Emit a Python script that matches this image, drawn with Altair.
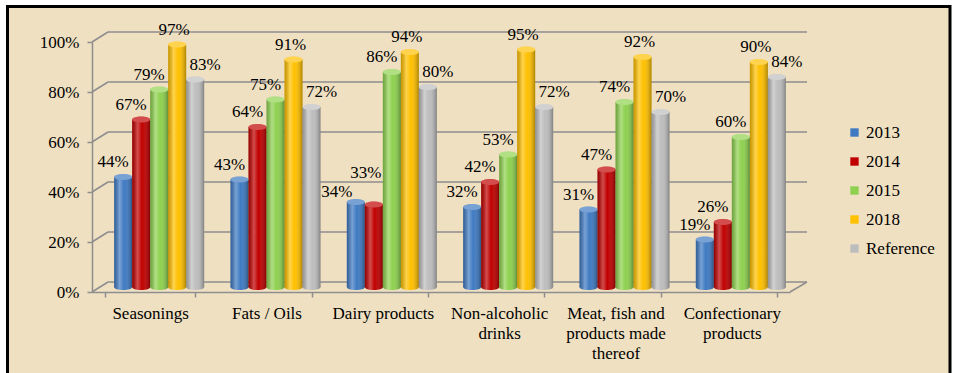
import altair as alt
import pandas as pd

# Product groups ("|" marks a line break in the axis label)
categories = [
    "Seasonings",
    "Fats / Oils",
    "Dairy products",
    "Non-alcoholic|drinks",
    "Meat, fish and|products made|thereof",
    "Confectionary|products",
]
series_names = ["2013", "2014", "2015", "2018", "Reference"]
series_colors = ["#3F7AC2", "#C00000", "#8ED14F", "#FFC000", "#BDBDBD"]

# Share of compliant samples, percent
s2013 = [44, 43, 34, 32, 31, 19]
s2014 = [67, 64, 33, 42, 47, 26]
s2015 = [79, 75, 86, 53, 74, 60]
s2018 = [97, 91, 94, 95, 92, 90]
s_ref = [83, 72, 80, 72, 70, 84]

y_ticks = [0, 0.2, 0.4, 0.6, 0.8, 1.0]

rows = []
for name, vals in zip(series_names, [s2013, s2014, s2015, s2018, s_ref]):
    for cat, v in zip(categories, vals):
        rows.append({"category": cat, "series": name, "value": v / 100})
df = pd.DataFrame(rows)

# When the first two bars of a group are nearly equal their labels collide;
# flag those groups so the labels can be stacked apart.
close = {c for c, a, b in zip(categories, s2013, s2014) if abs(a - b) < 4}
df["crowded"] = df["category"].isin(close) & df["series"].isin(["2013", "2014"])

grid_df = pd.DataFrame({"t": y_ticks})

FONT = "Liberation Serif"
PAPER = "#EFE0C2"
GRID = "#8E8E8E"
W, H = 698, 250
DEPTH_X, DEPTH_Y = 16, 5
SHIFT = 9  # bars stand half-way into the 3-D floor
PAD_IN, PAD_OUT = 0.226, 0.113

ellipse = "M -1 0 A 1 0.34 0 1 0 1 0 A 1 0.34 0 1 0 -1 0 Z"

axis_common = dict(
    labelFont=FONT,
    labelFontSize=17,
    labelColor="black",
    labelPadding=8,
    tickSize=5,
    tickColor=GRID,
    domainColor=GRID,
    domainWidth=1.5,
    tickWidth=1.5,
    offset=DEPTH_Y,
    zindex=1,
)

# Front category axis (front edge of the floor)
x_axis_enc = alt.X(
    "category:N",
    sort=categories,
    scale=alt.Scale(
        domain=categories, paddingInner=PAD_IN, paddingOuter=PAD_OUT, range=[0, W]
    ),
    axis=alt.Axis(
        title=None,
        labelAngle=0,
        labelExpr="split(datum.label, '|')",
        labelLineHeight=20,
        tickBand="extent",
        **axis_common,
    ),
)
# Bars sit a little deeper, so their band scale is shifted right
x_enc = alt.X(
    "category:N",
    sort=categories,
    scale=alt.Scale(
        domain=categories, paddingInner=PAD_IN, paddingOuter=PAD_OUT,
        range=[SHIFT, W + SHIFT],
    ),
    axis=None,
)
xo_enc = alt.XOffset("series:N", sort=series_names, scale=alt.Scale(domain=series_names))
y_enc = alt.Y(
    "value:Q",
    scale=alt.Scale(domain=[0, 1]),
    axis=alt.Axis(
        title=None,
        values=y_ticks,
        format=".0%",
        grid=False,
        translate=DEPTH_Y + 0.5,
        **axis_common,
    ),
)
color_enc = alt.Color(
    "series:N",
    sort=series_names,
    scale=alt.Scale(domain=series_names, range=series_colors),
    legend=alt.Legend(
        title=None,
        orient="none",
        legendX=754,
        legendY=87,
        symbolType="square",
        symbolSize=70,
        symbolStrokeWidth=0,
        labelFont=FONT,
        labelFontSize=17,
        labelColor="black",
        labelOffset=3,
        rowPadding=11,
        zindex=1,
    ),
)

# Page frame
frame = alt.Chart(pd.DataFrame({"k": [0]})).mark_rect(
    fill=PAPER, stroke="black", strokeWidth=3
).encode(
    x=alt.value(-84.5), x2=alt.value(858), y=alt.value(-30.5), y2=alt.value(346)
)

# Carrier layer for the front category axis
x_axis_layer = alt.Chart(pd.DataFrame({"category": categories})).mark_point(
    opacity=0
).encode(x=x_axis_enc)

# Back-wall gridlines and the left-wall connectors
back_grid = alt.Chart(grid_df).mark_rule(
    color=GRID, strokeWidth=1.5, yOffset=-DEPTH_Y
).encode(y=alt.Y("t:Q"), x=alt.value(DEPTH_X), x2=alt.value(W + DEPTH_X + 1))
side_grid = alt.Chart(grid_df).mark_rule(
    color=GRID, strokeWidth=1.5, yOffset=DEPTH_Y, y2Offset=-DEPTH_Y
).encode(y=alt.Y("t:Q"), y2=alt.Y2("t"), x=alt.value(0), x2=alt.value(DEPTH_X))
floor_edge = alt.Chart(pd.DataFrame({"t": [0]})).mark_rule(
    color=GRID, strokeWidth=1.5, yOffset=DEPTH_Y, y2Offset=-DEPTH_Y
).encode(y=alt.Y("t:Q"), y2=alt.Y2("t"), x=alt.value(W), x2=alt.value(W + DEPTH_X + 1))

base = alt.Chart(df).encode(x=x_enc, xOffset=xo_enc)

shade = alt.Gradient(
    gradient="linear",
    x1=0, x2=1, y1=0, y2=0,
    stops=[
        alt.GradientStop(color="rgba(0,0,0,0.22)", offset=0),
        alt.GradientStop(color="rgba(255,255,255,0.30)", offset=0.3),
        alt.GradientStop(color="rgba(255,255,255,0.0)", offset=0.55),
        alt.GradientStop(color="rgba(0,0,0,0.32)", offset=1),
    ],
)

bottom_cap = base.mark_point(
    shape=ellipse, size=324, filled=True, opacity=1, strokeWidth=0
).encode(y=alt.datum(0), color=color_enc)
bottom_shade = base.mark_point(
    shape=ellipse, size=324, filled=True, opacity=1, strokeWidth=0, fill=shade
).encode(y=alt.datum(0))
bars = base.mark_bar().encode(y=y_enc, color=color_enc)
bar_shade = base.mark_bar(fill=shade).encode(y="value:Q")
top_cap = base.mark_point(
    shape=ellipse, size=324, filled=True, opacity=1, strokeWidth=0
).encode(y="value:Q", color=color_enc)
top_light = base.mark_point(
    shape=ellipse, size=324, filled=True, opacity=0.3, strokeWidth=0, color="white"
).encode(y="value:Q")


def labels(names, dx, dy=-15, crowded=False):
    return base.mark_text(
        font=FONT, fontSize=17, color="black", baseline="middle", dx=dx, dy=dy
    ).encode(
        y="value:Q", text=alt.Text("value:Q", format=".0%")
    ).transform_filter(
        alt.FieldOneOfPredicate(field="series", oneOf=names)
    ).transform_filter(
        alt.FieldEqualPredicate(field="crowded", equal=crowded)
    )


chart = alt.layer(
    frame, x_axis_layer, back_grid, side_grid, floor_edge,
    bottom_cap, bottom_shade, bars, bar_shade, top_cap, top_light,
    labels(["2013", "2014", "2015"], -10),
    labels(["2018"], -3),
    labels(["Reference"], 10),
    labels(["2013"], -19, -10, crowded=True),
    labels(["2014"], -8, -32, crowded=True),
).resolve_scale(
    x="independent"
).properties(
    width=W,
    height=H,
    autosize=alt.AutoSizeParams(type="none"),
    padding={"left": 92, "top": 37, "right": 163, "bottom": 86},
    background="white",
).configure_view(strokeWidth=0)

chart.save("out.html", embed_options={"renderer": "svg", "actions": False})
